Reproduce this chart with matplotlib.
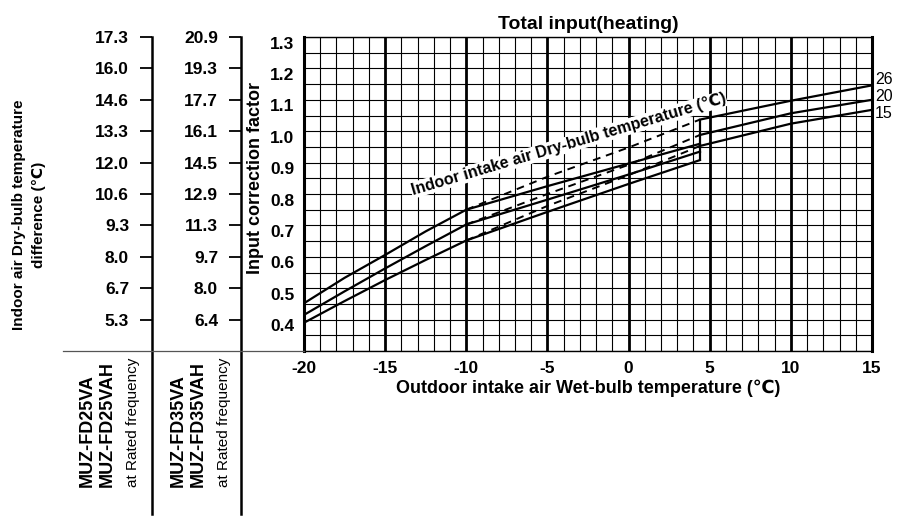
import numpy as np
import matplotlib.pyplot as plt
from matplotlib.lines import Line2D
from matplotlib.transforms import ScaledTranslation

plt.rcParams['font.family'] = ['Liberation Sans', 'DejaVu Sans']

# ---- data ----
factor_ticks = [1.3, 1.2, 1.1, 1.0, 0.9, 0.8, 0.7, 0.6, 0.5, 0.4]
scale_25 = ['17.3', '16.0', '14.6', '13.3', '12.0', '10.6', '9.3', '8.0', '6.7', '5.3']
scale_35 = ['20.9', '19.3', '17.7', '16.1', '14.5', '12.9', '11.3', '9.7', '8.0', '6.4']
x_ticks = [-20, -15, -10, -5, 0, 5, 10, 15]

indoor_db = ['26', '20', '15']

# -20 .. -10 (solid)
x_low = [-20, -17.5, -15, -12.5, -10]
y_low = {
    '26': [0.452, 0.533, 0.606, 0.681, 0.750],
    '20': [0.415, 0.490, 0.563, 0.634, 0.703],
    '15': [0.390, 0.459, 0.526, 0.590, 0.652],
}
# -10 .. step (solid, lower path)
x_mid = [-10, -5, 0, 4.4]
y_mid = {
    '26': [0.750, 0.825, 0.897, 0.960],
    '20': [0.703, 0.782, 0.862, 0.935],
    '15': [0.652, 0.743, 0.832, 0.908],
}
# -10 .. step (dashed, upper path)
y_dash = {
    '26': [0.750, 0.855, 0.948, 1.037],
    '20': [0.703, 0.800, 0.893, 0.988],
    '15': [0.652, 0.762, 0.860, 0.953],
}
# step .. 15 (solid)
x_high = [4.4, 10, 15]
y_high = {
    '26': [1.037, 1.097, 1.146],
    '20': [0.988, 1.057, 1.100],
    '15': [0.953, 1.024, 1.068],
}
label_offsets = {'26': 4.5, '20': 2.5, '15': -2.5}

# ---- layout (pixels) ----
W, H = 898, 517
L, R, T, B = 304, 872, 37, 351

def fx(px):
    return px / W

def fy(py):
    return 1 - py / H

fig = plt.figure(figsize=(W / 100, H / 100), dpi=100)

ax = fig.add_axes([fx(L), fy(B), (R - L) / W, (B - T) / H])
ax.set_xlim(-20, 15)
ax.set_ylim(0.3, 1.3)
ax.set_xticks(x_ticks)
ax.set_xticks(np.arange(-20, 16, 1), minor=True)
ax.set_yticks(factor_ticks)
ax.set_yticks(np.arange(0.3, 1.31, 0.05), minor=True)
ax.set_xticklabels([str(v) for v in x_ticks], fontweight='bold', fontsize=12.5)
ax.set_yticklabels([f'{v:.1f}' for v in factor_ticks], fontweight='bold', fontsize=12.5)
ax.tick_params(which='both', length=0)
ax.tick_params(axis='y', pad=7)
ax.tick_params(axis='x', pad=7)
for lab in ax.get_yticklabels():
    lab.set_transform(lab.get_transform() + ScaledTranslation(0, -4 / 72, fig.dpi_scale_trans))

ax.set_axisbelow(True)
ax.grid(which='major', axis='x', color='black', lw=2.0)
ax.grid(which='minor', axis='x', color='black', lw=0.8)
ax.grid(which='both', axis='y', color='black', lw=0.8)
for s in ['left', 'right']:
    ax.spines[s].set_linewidth(2.2)
for s in ['top', 'bottom']:
    ax.spines[s].set_linewidth(1.0)

for k in indoor_db:
    ax.plot(x_low, y_low[k], color='black', lw=1.6)
    ax.plot(x_mid, y_mid[k], color='black', lw=1.6)
    ax.plot(x_mid, y_dash[k], color='black', lw=1.4, dashes=(4, 3))
    ax.plot(x_high, y_high[k], color='black', lw=1.6)
    ax.annotate(k, xy=(x_high[-1], y_high[k][-1]), xytext=(2, label_offsets[k]),
                textcoords='offset points', va='center', ha='left', fontsize=11.5,
                annotation_clip=False)

step_lo = min(y_mid[k][-1] for k in indoor_db)
step_hi = max(y_dash[k][-1] for k in indoor_db)
ax.vlines(x_mid[-1], step_lo, step_hi, color='black', lw=1.6)

ax.text(-3.7, 0.958, 'Indoor intake air Dry-bulb temperature (℃)', rotation=16.5,
        rotation_mode='anchor', ha='center', va='center', fontsize=11.5,
        fontweight='bold', zorder=5,
        bbox=dict(facecolor='white', edgecolor='none', pad=0.5))

ax.set_title('Total input(heating)', fontweight='bold', fontsize=14, pad=6)
ax.set_xlabel('Outdoor intake air Wet-bulb temperature (℃)', fontweight='bold',
              fontsize=13, labelpad=3)
fig.text(fx(255), fy(178), 'Input correction factor', rotation=90, ha='center',
         va='center', fontsize=13, fontweight='bold')

# ---- side scales ----
bottom_px = 514
ybot = 1.3 - (bottom_px - T) / (B - T) * 1.0

def side_scale(xpx, labels):
    a = fig.add_axes([fx(xpx), fy(bottom_px), 1 / W, (bottom_px - T) / H])
    a.set_ylim(ybot, 1.3)
    a.set_yticks(factor_ticks)
    a.set_yticklabels(labels, fontweight='bold', fontsize=12.5)
    a.tick_params(axis='y', length=8.5, width=1.3, pad=8, direction='out')
    a.set_xticks([])
    for s in ['top', 'right', 'bottom']:
        a.spines[s].set_visible(False)
    a.spines['left'].set_linewidth(1.8)
    a.patch.set_visible(False)
    return a

side_scale(152, scale_25)
side_scale(241, scale_35)

fig.add_artist(Line2D([fx(63), fx(L)], [fy(B), fy(B)], transform=fig.transFigure,
                      color='#555555', lw=0.9))

fig.text(fx(29), fy(215), 'Indoor air Dry-bulb temperature\ndifference (℃)',
         rotation=90, ha='center', va='center', multialignment='center',
         fontsize=11, fontweight='bold', linespacing=1.45)

groups = [
    (87, ['MUZ-FD25VA', 'MUZ-FD25VAH']),
    (178, ['MUZ-FD35VA', 'MUZ-FD35VAH']),
]
for x0, names in groups:
    for i, name in enumerate(names):
        fig.text(fx(x0 + 20 * i), fy(487), name, rotation=90, ha='center',
                 va='bottom', fontsize=13, fontweight='bold')
    fig.text(fx(x0 + 46), fy(487), 'at Rated frequency', rotation=90, ha='center',
             va='bottom', fontsize=11)

fig.savefig('out.png', dpi=100)
